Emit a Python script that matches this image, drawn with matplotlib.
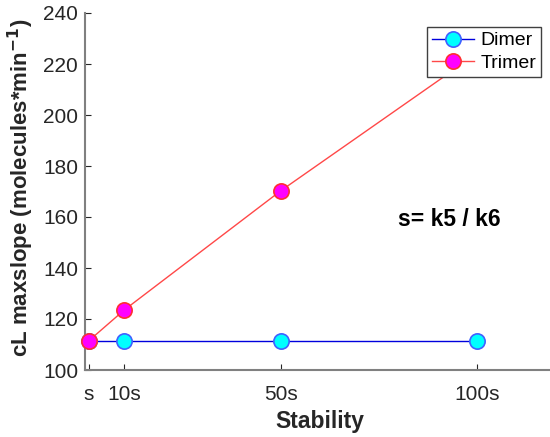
import matplotlib
matplotlib.use('Agg')
import matplotlib.pyplot as plt

plt.rcParams['font.family'] = ['Liberation Sans', 'DejaVu Sans']

# datos
x_pos = [1, 10, 50, 100]
x_labels = ['s', '10s', '50s', '100s']
dimer = [111.5, 111.5, 111.5, 111.5]
trimer = [111.5, 123.5, 170.3, 224]

fig = plt.figure(figsize=(5.5, 4.37), dpi=100)
ax = fig.add_axes([85 / 550, 67 / 437, 470 / 550, 357 / 437])

ax.plot(x_pos, dimer, '-o', color='#0000dd', linewidth=1.0,
        markersize=11, markerfacecolor='#00ffff', markeredgecolor='#4060ff',
        markeredgewidth=1.2, label='Dimer', clip_on=False, zorder=3)
ax.plot(x_pos, trimer, '-o', color='#ff4848', linewidth=1.0,
        markersize=11, markerfacecolor='#ff00ff', markeredgecolor='#ff3030',
        markeredgewidth=1.2, label='Trimer', clip_on=False, zorder=3)

ax.set_xlim(0, 120)
ax.set_ylim(100, 240)
ax.set_xticks(x_pos)
ax.set_xticklabels(x_labels)
ax.set_yticks(range(100, 241, 20))

for side in ['top', 'right']:
    ax.spines[side].set_visible(False)
for side in ['left', 'bottom']:
    ax.spines[side].set_color('#808080')
    ax.spines[side].set_linewidth(1.5)

ax.tick_params(direction='in', length=4, width=0.8, color='#262626',
               labelsize=15, labelcolor='#262626')
ax.tick_params(axis='x', pad=11)
ax.tick_params(axis='y', pad=5)

ax.set_xlabel('Stability', fontsize=16.5, fontweight='bold', color='#262626',
              labelpad=4)
ax.set_ylabel('cL maxslope (molecules*min$^{\\mathbf{-1}}$)', fontsize=16,
              fontweight='bold', color='#262626')
ax.yaxis.set_label_coords(-0.105, 0.51)

ax.text(80, 159, 's= k5 / k6', fontsize=16.5, fontweight='bold',
        va='center', ha='left')

leg = ax.legend(loc='upper right', bbox_to_anchor=(541 / 550, 1 - 27 / 437),
                bbox_transform=fig.transFigure, fontsize=14, fancybox=False,
                framealpha=1, edgecolor='#404040', borderpad=0.25,
                handlelength=2.2, handletextpad=0.3, labelspacing=0.25,
                borderaxespad=0)
leg.get_frame().set_linewidth(1.0)
leg.set_zorder(5)

fig.savefig('out.png', dpi=100)
